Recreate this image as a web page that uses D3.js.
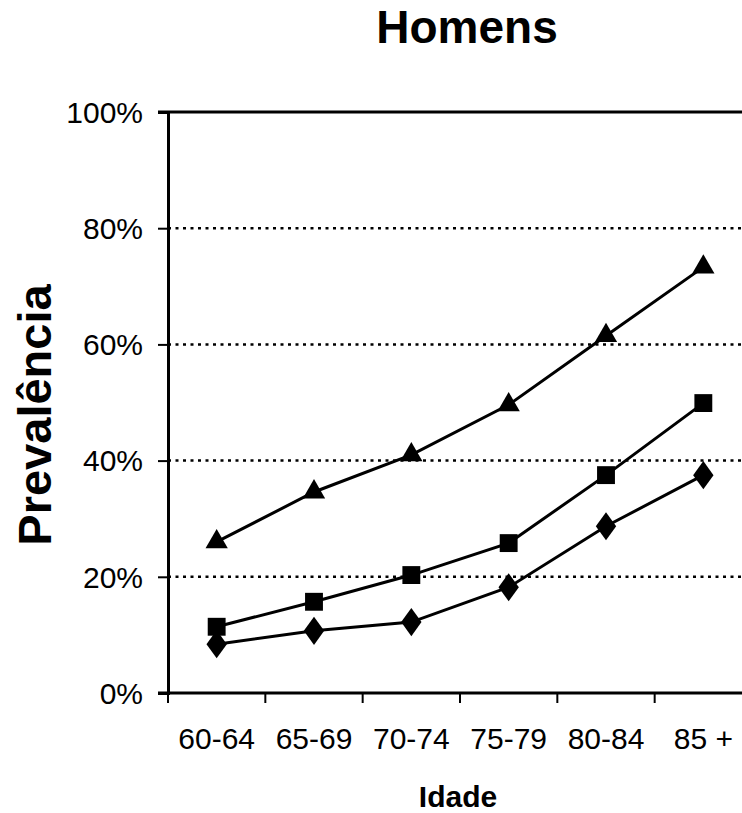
<!DOCTYPE html>
<html><head><meta charset="utf-8">
<script src="https://cdn.jsdelivr.net/npm/d3@7"></script>
<style>body{margin:0;background:#fff}svg{display:block}text{font-family:Arial,"Liberation Sans",sans-serif;fill:#000}</style>
</head><body>
<script>
const categories = ["60-64","65-69","70-74","75-79","80-84","85 +"];
const triangleSeries = [26.0, 34.6, 41.0, 49.6, 61.5, 73.3];
const squareSeries   = [11.4, 15.7, 20.3, 25.8, 37.5, 49.9];
const diamondSeries  = [8.4, 10.7, 12.2, 18.2, 28.7, 37.5];
const yTicks = [0, 20, 40, 60, 80, 100];
const titleText = "Homens", xTitle = "Idade", yTitle = "Prevalência";

const W = 742, H = 813;
const svg = d3.select("body").append("svg").attr("width", W).attr("height", H);
const x = d3.scaleBand().domain(categories).range([168, 752]);
const y = d3.scaleLinear().domain([0, 100]).range([693, 112]);
const cx = c => x(c) + x.bandwidth() / 2;

// grid lines
svg.append("g").selectAll("line").data(yTicks.filter(t => t > 0 && t < 100)).join("line")
  .attr("x1", 168).attr("x2", W).attr("y1", d => y(d)).attr("y2", d => y(d))
  .attr("stroke", "#000").attr("stroke-width", 2.5).attr("stroke-dasharray", "3,4.5");
// top frame line
svg.append("line").attr("x1", 158).attr("x2", W).attr("y1", y(100)).attr("y2", y(100))
  .attr("stroke", "#000").attr("stroke-width", 3);

// y axis
const yAxis = d3.axisLeft(y).tickValues(yTicks).tickFormat(d => d + "%").tickSize(10).tickPadding(15);
const gy = svg.append("g").attr("transform", "translate(168,0)").call(yAxis);
gy.select(".domain").attr("stroke", "#000").attr("stroke-width", 3);
gy.selectAll(".tick line").attr("stroke", "#000").attr("stroke-width", 2);
gy.selectAll(".tick text").attr("font-size", 30).attr("dy", "0.34em").attr("font-family", "Arial, 'Liberation Sans', sans-serif").attr("fill", "#000");

// x axis
svg.append("line").attr("x1", 158).attr("x2", W).attr("y1", y(0)).attr("y2", y(0))
  .attr("stroke", "#000").attr("stroke-width", 3);
const bounds = categories.map(c => x(c));
svg.append("g").selectAll("line").data(bounds).join("line")
  .attr("x1", d => d).attr("x2", d => d).attr("y1", y(0)).attr("y2", y(0) + 10)
  .attr("stroke", "#000").attr("stroke-width", 2);
svg.append("g").selectAll("text").data(categories).join("text")
  .attr("x", d => cx(d)).attr("y", 749).attr("text-anchor", "middle")
  .attr("font-size", 30).text(d => d);

// series
const line = d3.line().x((d, i) => cx(categories[i])).y(d => y(d));
const series = [
  {vals: triangleSeries, sym: d3.symbolTriangle, size: 215, sx: 1},
  {vals: squareSeries, sym: d3.symbolSquare, size: 320, sx: 1},
  {vals: diamondSeries, sym: d3.symbolDiamond, size: 230, sx: 1.25}
];
series.forEach(s => {
  svg.append("path").attr("d", line(s.vals)).attr("fill", "none").attr("stroke", "#000").attr("stroke-width", 3);
  svg.append("g").selectAll("path").data(s.vals).join("path")
    .attr("transform", (d, i) => `translate(${cx(categories[i])},${y(d)}) scale(${s.sx},1)`)
    .attr("d", d3.symbol().type(s.sym).size(s.size)).attr("fill", "#000");
});

// titles
svg.append("text").attr("x", 467).attr("y", 43).attr("text-anchor", "middle")
  .attr("font-size", 46).attr("font-weight", "bold").text(titleText);
svg.append("text").attr("x", 458).attr("y", 807).attr("text-anchor", "middle")
  .attr("font-size", 30).attr("font-weight", "bold").text(xTitle);
svg.append("text").attr("transform", "translate(51,415) rotate(-90)").attr("text-anchor", "middle")
  .attr("font-size", 47).attr("font-weight", "bold").text(yTitle);
</script>
</body></html>
